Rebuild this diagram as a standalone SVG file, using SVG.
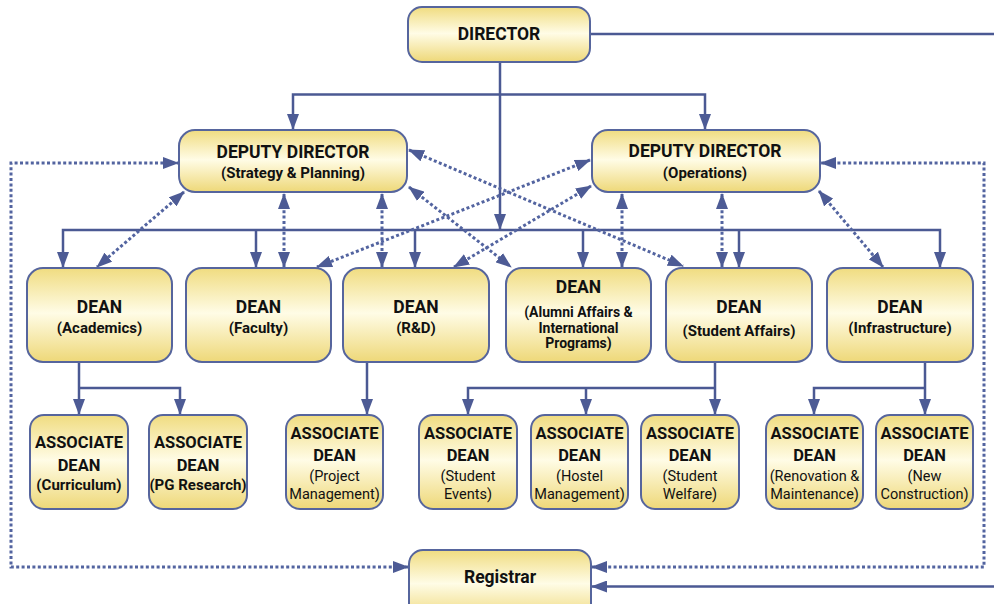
<svg xmlns="http://www.w3.org/2000/svg" width="994" height="604" viewBox="0 0 994 604">
  <defs>
    <linearGradient id="boxFill" x1="0" y1="0" x2="0" y2="1">
      <stop offset="0" stop-color="#f0dc80"/>
      <stop offset="0.48" stop-color="#fffce6"/>
      <stop offset="1" stop-color="#eed878"/>
    </linearGradient>
    <marker id="arrow" viewBox="0 0 16 12" markerWidth="16" markerHeight="12" refX="15" refY="6" orient="auto-start-reverse" markerUnits="userSpaceOnUse">
      <path d="M0,0 L16,6 L0,12 Z" fill="#4d5b95"/>
    </marker>
  </defs>
  <style>
    .box { fill: url(#boxFill); stroke: #56659d; stroke-width: 2; }
    .solid { fill: none; stroke: #4b5993; stroke-width: 2.5; }
    .dot { fill: none; stroke: #5364a0; stroke-width: 3; stroke-dasharray: 3 2.4; }
    text { font-family: Roboto, "Liberation Sans", sans-serif; fill: #111; text-anchor: middle; }
    .h { font-weight: 700; font-size: 17.5px; }
    .s { font-weight: 700; font-size: 15px; }
    .t { font-weight: 700; font-size: 14px; }
    .a { font-weight: 700; font-size: 16.5px; }
    .r { font-weight: 400; font-size: 14.5px; }
  </style>

  <!-- connectors -->
  <g id="connectors">
    <!-- solid reporting lines -->
    <path class="solid" d="M590,34 H994"/>
    <path class="solid" d="M500,62 V229" marker-end="url(#arrow)"/>
    <path class="solid" d="M293,129 V94.5 H705 V129" marker-start="url(#arrow)" marker-end="url(#arrow)"/>
    <path class="solid" d="M63,267 V230 H940 V267" marker-start="url(#arrow)" marker-end="url(#arrow)"/>
    <path class="solid" d="M256,230 V267" marker-end="url(#arrow)"/>
    <path class="solid" d="M415,230 V267" marker-end="url(#arrow)"/>
    <path class="solid" d="M583,230 V267" marker-end="url(#arrow)"/>
    <path class="solid" d="M739,230 V267" marker-end="url(#arrow)"/>

    <path class="solid" d="M79,362 V414" marker-end="url(#arrow)"/>
    <path class="solid" d="M79,388 H180 V414" marker-end="url(#arrow)"/>
    <path class="solid" d="M367,362 V414" marker-end="url(#arrow)"/>
    <path class="solid" d="M715,362 V414" marker-end="url(#arrow)"/>
    <path class="solid" d="M715,388 H468 V414" marker-end="url(#arrow)"/>
    <path class="solid" d="M586,388 V414" marker-end="url(#arrow)"/>
    <path class="solid" d="M925,362 V414" marker-end="url(#arrow)"/>
    <path class="solid" d="M925,388 H814 V414" marker-end="url(#arrow)"/>

    <path class="solid" d="M994,586.5 H592" marker-end="url(#arrow)"/>

    <!-- dotted coordination lines -->
    <path class="dot" d="M408,567 H11 V163 H178" marker-start="url(#arrow)" marker-end="url(#arrow)"/>
    <path class="dot" d="M592,567 H984 V163 H821" marker-start="url(#arrow)" marker-end="url(#arrow)"/>
    <path class="dot" d="M184,192 L97,267" marker-start="url(#arrow)" marker-end="url(#arrow)"/>
    <path class="dot" d="M284,194 V267" marker-start="url(#arrow)" marker-end="url(#arrow)"/>
    <path class="dot" d="M382,194 V267" marker-start="url(#arrow)" marker-end="url(#arrow)"/>
    <path class="dot" d="M409,187 L511,267" marker-start="url(#arrow)" marker-end="url(#arrow)"/>
    <path class="dot" d="M409,150 L683,266" marker-start="url(#arrow)" marker-end="url(#arrow)"/>
    <path class="dot" d="M590,160 L317,267" marker-start="url(#arrow)" marker-end="url(#arrow)"/>
    <path class="dot" d="M591,186 L454,267" marker-start="url(#arrow)" marker-end="url(#arrow)"/>
    <path class="dot" d="M622,194 V267" marker-start="url(#arrow)" marker-end="url(#arrow)"/>
    <path class="dot" d="M722,194 V267" marker-start="url(#arrow)" marker-end="url(#arrow)"/>
    <path class="dot" d="M819,191 L883,267" marker-start="url(#arrow)" marker-end="url(#arrow)"/>
  </g>

  <!-- top level -->
  <g id="director">
    <rect class="box" x="408" y="7" width="182" height="55" rx="14"/>
    <text class="h" x="499" y="39.5">DIRECTOR</text>
  </g>
  <g id="dd-strategy">
    <rect class="box" x="179" y="130" width="228" height="62" rx="16"/>
    <text class="h" x="293" y="158">DEPUTY DIRECTOR</text>
    <text class="s" x="293" y="178">(Strategy &amp; Planning)</text>
  </g>
  <g id="dd-operations">
    <rect class="box" x="592" y="130" width="228" height="62" rx="16"/>
    <text class="h" x="705" y="156.5">DEPUTY DIRECTOR</text>
    <text class="s" x="705" y="178">(Operations)</text>
  </g>

  <!-- deans -->
  <g id="dean-academics">
    <rect class="box" x="27" y="268" width="145" height="94" rx="16"/>
    <text class="h" x="99.5" y="313">DEAN</text>
    <text class="s" x="99.5" y="332.5">(Academics)</text>
  </g>
  <g id="dean-faculty">
    <rect class="box" x="186" y="268" width="145" height="94" rx="16"/>
    <text class="h" x="258.5" y="313">DEAN</text>
    <text class="s" x="258.5" y="332.5">(Faculty)</text>
  </g>
  <g id="dean-rnd">
    <rect class="box" x="343" y="268" width="146" height="94" rx="16"/>
    <text class="h" x="416" y="313">DEAN</text>
    <text class="s" x="416" y="332.5">(R&amp;D)</text>
  </g>
  <g id="dean-alumni">
    <rect class="box" x="506" y="268" width="145" height="94" rx="16"/>
    <text class="h" x="578.5" y="293">DEAN</text>
    <text class="t" x="578.5" y="316.5">(Alumni Affairs &amp;</text>
    <text class="t" x="578.5" y="332.5">International</text>
    <text class="t" x="578.5" y="348">Programs)</text>
  </g>
  <g id="dean-student-affairs">
    <rect class="box" x="666" y="268" width="146" height="94" rx="16"/>
    <text class="h" x="739" y="313">DEAN</text>
    <text class="s" x="739" y="336">(Student Affairs)</text>
  </g>
  <g id="dean-infrastructure">
    <rect class="box" x="827" y="268" width="146" height="94" rx="16"/>
    <text class="h" x="900" y="313">DEAN</text>
    <text class="s" x="900" y="332.5">(Infrastructure)</text>
  </g>

  <!-- associate deans -->
  <g id="ad-curriculum">
    <rect class="box" x="30" y="415" width="98" height="94" rx="14"/>
    <text class="a" x="79" y="448.3">ASSOCIATE</text>
    <text class="a" x="79" y="470.7">DEAN</text>
    <text class="s" x="79" y="490">(Curriculum)</text>
  </g>
  <g id="ad-pg-research">
    <rect class="box" x="149" y="415" width="98" height="94" rx="14"/>
    <text class="a" x="198" y="448.3">ASSOCIATE</text>
    <text class="a" x="198" y="470.7">DEAN</text>
    <text class="s" x="198" y="490">(PG Research)</text>
  </g>
  <g id="ad-project">
    <rect class="box" x="286" y="415" width="97" height="94" rx="14"/>
    <text class="a" x="334.5" y="439">ASSOCIATE</text>
    <text class="a" x="334.5" y="460.7">DEAN</text>
    <text class="r" x="334.5" y="480.5">(Project</text>
    <text class="r" x="334.5" y="499">Management)</text>
  </g>
  <g id="ad-student-events">
    <rect class="box" x="419" y="415" width="98" height="94" rx="14"/>
    <text class="a" x="468" y="439">ASSOCIATE</text>
    <text class="a" x="468" y="460.7">DEAN</text>
    <text class="r" x="468" y="480.5">(Student</text>
    <text class="r" x="468" y="499">Events)</text>
  </g>
  <g id="ad-hostel">
    <rect class="box" x="531" y="415" width="97" height="94" rx="14"/>
    <text class="a" x="579.5" y="439">ASSOCIATE</text>
    <text class="a" x="579.5" y="460.7">DEAN</text>
    <text class="r" x="579.5" y="480.5">(Hostel</text>
    <text class="r" x="579.5" y="499">Management)</text>
  </g>
  <g id="ad-student-welfare">
    <rect class="box" x="641" y="415" width="98" height="94" rx="14"/>
    <text class="a" x="690" y="439">ASSOCIATE</text>
    <text class="a" x="690" y="460.7">DEAN</text>
    <text class="r" x="690" y="480.5">(Student</text>
    <text class="r" x="690" y="499">Welfare)</text>
  </g>
  <g id="ad-renovation">
    <rect class="box" x="766" y="415" width="97" height="94" rx="14"/>
    <text class="a" x="814.5" y="439">ASSOCIATE</text>
    <text class="a" x="814.5" y="460.7">DEAN</text>
    <text class="r" x="814.5" y="480.5">(Renovation &amp;</text>
    <text class="r" x="814.5" y="499">Maintenance)</text>
  </g>
  <g id="ad-new-construction">
    <rect class="box" x="876" y="415" width="97" height="94" rx="14"/>
    <text class="a" x="924.5" y="439">ASSOCIATE</text>
    <text class="a" x="924.5" y="460.7">DEAN</text>
    <text class="r" x="924.5" y="480.5">(New</text>
    <text class="r" x="924.5" y="499">Construction)</text>
  </g>

  <!-- registrar -->
  <g id="registrar">
    <rect class="box" x="409" y="550" width="182" height="70" rx="14"/>
    <text class="h" x="500" y="583">Registrar</text>
  </g>
</svg>
